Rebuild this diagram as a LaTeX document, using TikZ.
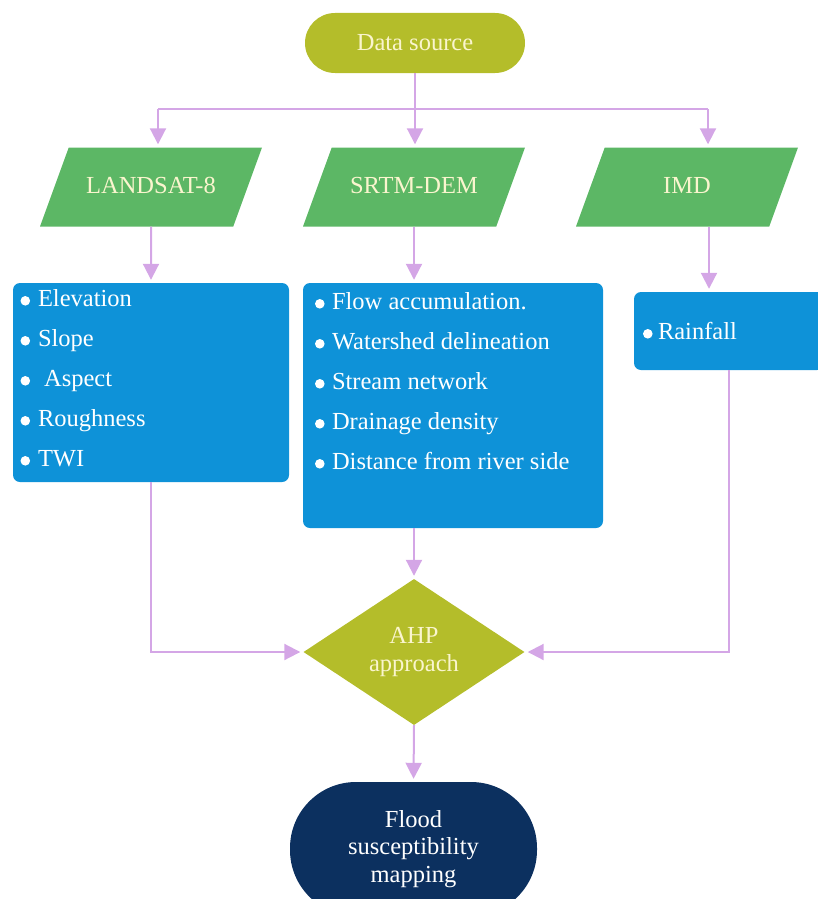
\documentclass[tikz,border=0pt]{standalone}
\usepackage{fontspec}
\setmainfont{Liberation Serif}
\usetikzlibrary{arrows.meta,shapes.geometric,calc}

\definecolor{ahpolive}{RGB}{180,189,42}
\definecolor{srcgreen}{RGB}{92,183,101}
\definecolor{listblue}{RGB}{14,146,216}
\definecolor{mapnavy}{RGB}{12,48,95}
\definecolor{linklilac}{RGB}{212,166,230}
\definecolor{labelcream}{RGB}{250,245,206}

\begin{document}
\begin{tikzpicture}[x=1pt, y=-1pt, >={Triangle[width=16pt,length=16pt]},
  font=\fontsize{24.5}{27.5}\selectfont,
  link/.style={draw=linklilac, line width=2pt},
  feed/.style={link, ->, shorten >=3pt},
  pill/.style={rectangle, rounded corners=#1, inner sep=0pt, align=center},
  slanted/.style={trapezium, trapezium left angle=70, trapezium right angle=110,
    trapezium stretches body, fill=srcgreen, text=labelcream, inner xsep=0pt,
    text height=17pt, text depth=5pt, inner ysep=28.5pt, minimum width=222},
  listbox/.style={rectangle, rounded corners=7pt, fill=listblue},
  item/.style={anchor=base west, inner sep=0pt, text=white}]
  \useasboundingbox (0,0) rectangle (818,899);
  \clip (0,0) rectangle (818,899);
  % ---------------------------------------------------------------- the source and the three data sets
  \node[pill=30pt, fill=ahpolive, text=labelcream, minimum width=220, minimum height=60] (source) at (415,43) {Data source};
  \node[slanted] (landsat) at (151,187) {LANDSAT-8};
  \node[slanted] (srtm) at (414,187) {SRTM-DEM};
  \node[slanted] (imd) at (687,187) {IMD};
  % ---------------------------------------------------------------- the factor lists
  \node[listbox, minimum width=276, minimum height=199] (landlist) at (151,382.5) {};
  \node[listbox, minimum width=300, minimum height=245] (srtmlist) at (453,405.5) {};
  \node[listbox, minimum width=190, minimum height=78] (imdlist) at (729,331) {};
  % bullets: round dots sitting low, just left of each line
  \foreach \t [count=\i from 0] in {Elevation, Slope, \ Aspect, Roughness, TWI} {
    \node[item] (landitem-\i) at ($(landlist.north west)+(25,24+40*\i)$) {\t};
    \fill[white] ($(landitem-\i.base west)+(-12.5,-6)$) circle (4.8);
  }
  \foreach \t [count=\i from 0] in {Flow accumulation., Watershed delineation, Stream network,
      Drainage density, Distance from river side} {
    \node[item] (srtmitem-\i) at ($(srtmlist.north west)+(29,27+40*\i)$) {\t};
    \fill[white] ($(srtmitem-\i.base west)+(-12,-6)$) circle (4.8);
  }
  \node[item] (imditem-0) at ($(imdlist.north west)+(24,48)$) {Rainfall};
  \fill[white] ($(imditem-0.base west)+(-10,-6)$) circle (4.8);
  % ---------------------------------------------------------------- the weighting and the result
  \node[diamond, fill=ahpolive, text=labelcream, inner sep=0pt, align=center,
    minimum width=221, minimum height=146] (ahp) at (414,652) {AHP\\approach};
  \node[pill=66pt, fill=mapnavy, text=white, minimum width=247, minimum height=134] (flood) at (413.5,849)
    {Flood\\susceptibility\\mapping};
  % ---------------------------------------------------------------- connectors
  \coordinate (forkL) at (158,109);
  \coordinate (forkR) at (708,109);
  \draw[link] (forkL) -- (forkR);
  \draw[feed] (source.south) -- (source.south |- srtm.north);
  \draw[feed] (forkL) -- (forkL |- landsat.north);
  \draw[feed] (forkR) -- (forkR |- imd.north);
  \draw[feed] (landsat.south) -- (landlist.north);
  \draw[feed] (srtm.south) -- (srtm.south |- srtmlist.north);
  \draw[feed] ([xshift=22pt]imd.south) -- ([xshift=22pt]imd.south |- imdlist.north);
  \draw[feed] (landlist.south) |- (ahp.west);
  \draw[feed] (srtmlist.south -| ahp.north) -- (ahp.north);
  \draw[feed] (imdlist.south) |- (ahp.east);
  \draw[feed] (ahp.south) -- (flood.north);
\end{tikzpicture}
\end{document}
